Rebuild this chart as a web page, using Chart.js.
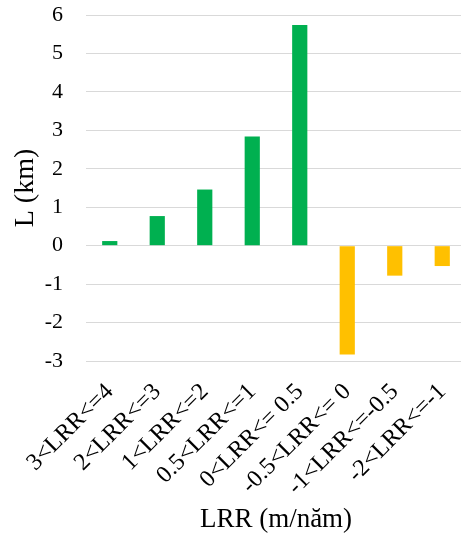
<!DOCTYPE html>
<html>
<head>
<meta charset="utf-8">
<title>LRR chart</title>
<script src="https://cdn.jsdelivr.net/npm/chart.js@4/dist/chart.umd.min.js"></script>
<style>
    html, body { margin: 0; padding: 0; background: #fff; overflow: hidden; }
    #wrap { width: 461px; height: 537px; overflow: hidden; }
</style>
</head>
<body>
<div id="wrap"><canvas id="lrrChart" width="480" height="537"></canvas></div>
<script>
// LRR classes (m/năm) and shoreline length per class (km)
var categories = ['3<LRR<=4', '2<LRR<=3', '1<LRR<=2', '0.5<LRR<=1', '0<LRR<= 0.5', '-0.5<LRR<= 0', '-1<LRR<=-0.5', '-2<LRR<=-1'];
var lengths = [0.12, 0.77, 1.46, 2.84, 5.74, -2.83, -0.78, -0.53];
var yTicks = [-3, -2, -1, 0, 1, 2, 3, 4, 5, 6];

var GREEN = '#00B050';
var YELLOW = '#FFC000';
var FONT = '"Liberation Serif", "Times New Roman", serif';

(function() {
    'use strict';

    var ctx = document.getElementById('lrrChart').getContext('2d');

    new Chart(ctx, {
        type: 'bar',
        data: {
            labels: categories,
            datasets: [{
                data: lengths,
                backgroundColor: function(c) {
                    return c.raw >= 0 ? GREEN : YELLOW;
                },
                borderWidth: 0,
                categoryPercentage: 1,
                barPercentage: 0.32
            }]
        },
        options: {
            responsive: false,
            animation: false,
            devicePixelRatio: 1,
            layout: { padding: { top: 15, right: 14, bottom: 0, left: 0 } },
            plugins: {
                legend: { display: false },
                tooltip: { enabled: false }
            },
            scales: {
                x: {
                    grid: { display: false, drawTicks: false },
                    border: { display: false },
                    ticks: {
                        autoSkip: false,
                        maxRotation: 45,
                        minRotation: 45,
                        padding: 17,
                        color: '#000',
                        font: { family: FONT, size: 24 }
                    },
                    title: {
                        display: true,
                        text: 'LRR (m/năm)',
                        color: '#000',
                        font: { family: FONT, size: 27, lineHeight: 1.2 },
                        padding: { top: 0, bottom: 1 }
                    },
                    afterFit: function(scale) {
                        scale.height = 176;
                        scale.paddingLeft = 0;
                        scale.paddingRight = 0;
                    }
                },
                y: {
                    min: -3,
                    max: 6,
                    afterBuildTicks: function(scale) {
                        scale.ticks = yTicks.map(function(v) { return { value: v }; });
                    },
                    grid: { color: '#D9D9D9', lineWidth: 1, drawTicks: false },
                    border: { display: false },
                    ticks: {
                        padding: 23,
                        color: '#000',
                        font: { family: FONT, size: 22 }
                    },
                    title: {
                        display: true,
                        text: 'L (km)',
                        color: '#000',
                        font: { family: FONT, size: 28, lineHeight: 1.2 },
                        padding: { top: 9, bottom: 0 }
                    },
                    afterFit: function(scale) {
                        scale.width = 86;
                        scale.paddingTop = 0;
                        scale.paddingBottom = 0;
                    }
                }
            }
        }
    });
})();
</script>
</body>
</html>
